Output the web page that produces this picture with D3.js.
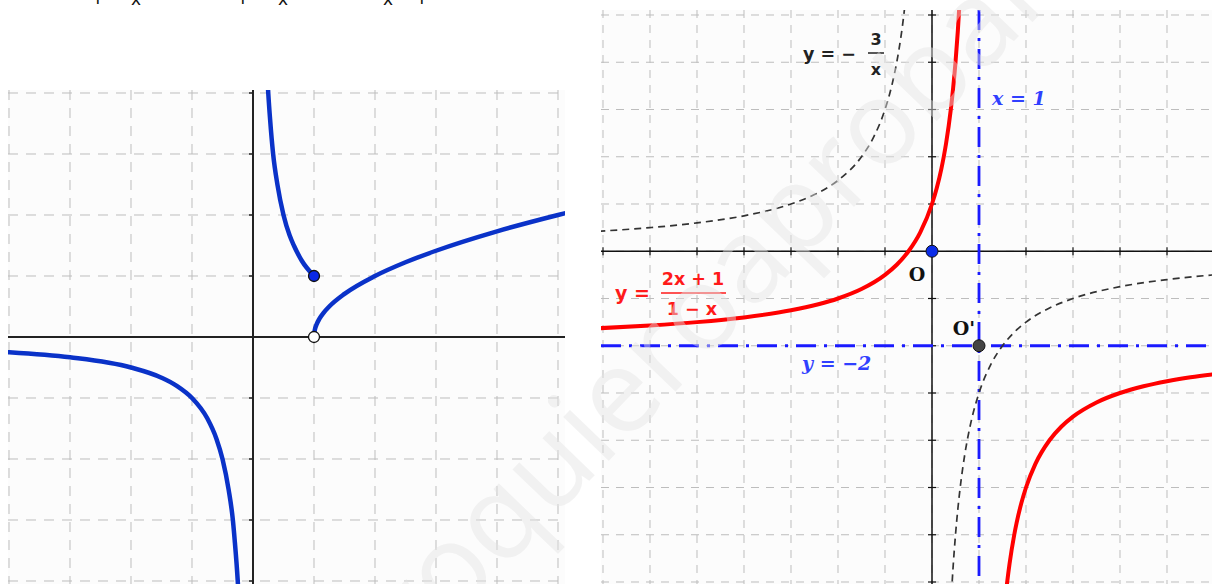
<!DOCTYPE html>
<html>
<head>
<meta charset="utf-8">
<script src="https://cdn.jsdelivr.net/npm/d3@7"></script>
<style>
  body { margin: 0; background: #fff; }
  svg { display: block; }
</style>
</head>
<body>
<div id="chart"></div>
<script>
// left panel: piecewise function
var leftNeg = [[-4.1,-0.244],[-4,-0.25],[-3,-0.333],[-2,-0.5],[-1.5,-0.667],[-1.25,-0.8],[-1,-1],[-0.75,-1.333],
               [-0.6,-1.667],[-0.5,-2],[-0.4,-2.5],[-0.33,-3],[-0.3,-3.333],[-0.25,-4],[-0.22,-4.55]];
var leftMid = [[0.22,4.55],[0.25,4],[0.28,3.571],[0.33,3],[0.4,2.5],[0.5,2],[0.6,1.667],[0.67,1.5],[0.8,1.25],[1,1]];
var leftRoot = [[1,0],[1.01,0.1],[1.04,0.2],[1.09,0.3],[1.16,0.4],[1.25,0.5],[1.5,0.707],[2,1],
                [2.5,1.225],[3,1.414],[4,1.732],[5,2],[5.2,2.05]];
var leftDots = [{x:1, y:1, open:false}, {x:1, y:0, open:true}];

// right panel: y=(2x+1)/(1-x) and y=-3/x
var redLeft = [[-7.1,-1.63],[-6,-1.571],[-5,-1.5],[-4,-1.4],[-3,-1.25],[-2,-1],[-1.5,-0.8],[-1,-0.5],
               [-0.75,-0.286],[-0.5,0],[-0.25,0.4],[0,1],[0.1,1.333],[0.2,1.75],[0.25,2],[0.3,2.286],
               [0.4,3],[0.45,3.455],[0.5,4],[0.55,4.667],[0.6,5.5],[0.65,6.57]];
var redRight = [[1.4,-9.5],[1.5,-8],[1.55,-7.455],[1.6,-7],[1.65,-6.615],[1.75,-6],[1.8,-5.75],[1.9,-5.333],
                [2,-5],[2.2,-4.5],[2.5,-4],[2.75,-3.714],[3,-3.5],[3.5,-3.2],[4,-3],[4.5,-2.857],
                [5,-2.75],[5.5,-2.667],[6.1,-2.59]];
var hypLeft = [[-7.1,0.423],[-6,0.5],[-5,0.6],[-4,0.75],[-3,1],[-2.5,1.2],[-2,1.5],[-1.5,2],[-1.25,2.4],
               [-1,3],[-0.9,3.333],[-0.8,3.75],[-0.75,4],[-0.7,4.286],[-0.6,5],[-0.55,5.455],[-0.5,6]];
var hypRight = [[0.4,-7.5],[0.45,-6.667],[0.5,-6],[0.55,-5.455],[0.6,-5],[0.7,-4.286],[0.75,-4],[0.85,-3.529],
                [1,-3],[1.25,-2.4],[1.5,-2],[1.75,-1.714],[2,-1.5],[2.5,-1.2],[3,-1],[4,-0.75],[5,-0.6],[6.1,-0.49]];
var asymX = 1, asymY = -2;
var rightDots = [{x:0, y:0, fill:"#0a2ce8"}, {x:1, y:-2, fill:"#444"}];

var width = 1212, height = 584;

var svg = d3.select("#chart").append("svg")
  .attr("width", width)
  .attr("height", height);

var line = function(x, y) {
  return d3.line().x(function(d){ return x(d[0]); }).y(function(d){ return y(d[1]); })
    .curve(d3.curveMonotoneX);
};

// ---------- left panel ----------
var lx = d3.scaleLinear().domain([-4, 5]).range([9, 558]);
var ly = d3.scaleLinear().domain([-4, 4]).range([581, 93]);
var L = {x0: 8, y0: 90, x1: 565, y1: 584};

var defs = svg.append("defs");
defs.append("clipPath").attr("id", "clipL").append("rect")
  .attr("x", L.x0).attr("y", L.y0).attr("width", L.x1 - L.x0).attr("height", L.y1 - L.y0);

var gl = svg.append("g").attr("clip-path", "url(#clipL)");
gl.append("rect").attr("x", L.x0).attr("y", L.y0).attr("width", L.x1 - L.x0).attr("height", L.y1 - L.y0)
  .attr("fill", "#fcfcfc");

gl.selectAll(".vgrid").data(d3.range(-4, 6)).enter().append("line")
  .attr("x1", function(d){ return lx(d); }).attr("x2", function(d){ return lx(d); })
  .attr("y1", L.y0).attr("y2", L.y1)
  .attr("stroke", "#bdbdbd").attr("stroke-width", 1).attr("stroke-dasharray", "10,8");
gl.selectAll(".hgrid").data(d3.range(-4, 5)).enter().append("line")
  .attr("y1", function(d){ return ly(d); }).attr("y2", function(d){ return ly(d); })
  .attr("x1", L.x0).attr("x2", L.x1)
  .attr("stroke", "#bdbdbd").attr("stroke-width", 1).attr("stroke-dasharray", "10,8");

gl.append("line").attr("x1", L.x0).attr("x2", L.x1).attr("y1", ly(0)).attr("y2", ly(0))
  .attr("stroke", "#222").attr("stroke-width", 2);
gl.append("line").attr("x1", lx(0)).attr("x2", lx(0)).attr("y1", L.y0).attr("y2", L.y1)
  .attr("stroke", "#222").attr("stroke-width", 2);
gl.selectAll(".ytick").data([-4,-3,-2,-1,1,2,3,4]).enter().append("line")
  .attr("x1", lx(0) - 4).attr("x2", lx(0))
  .attr("y1", function(d){ return ly(d); }).attr("y2", function(d){ return ly(d); })
  .attr("stroke", "#222").attr("stroke-width", 1.5);

[leftNeg, leftMid, leftRoot].forEach(function(pts){
  gl.append("path").attr("d", line(lx, ly)(pts))
    .attr("fill", "none").attr("stroke", "#0a32c8").attr("stroke-width", 4.5);
});
gl.selectAll(".dot").data(leftDots).enter().append("circle")
  .attr("cx", function(d){ return lx(d.x); }).attr("cy", function(d){ return ly(d.y); })
  .attr("r", 5.5)
  .attr("fill", function(d){ return d.open ? "#fff" : "#0a28e6"; })
  .attr("stroke", "#111").attr("stroke-width", 1.3);

// ---------- right panel ----------
var rx = d3.scaleLinear().domain([-7, 6]).range([603, 1214]);
var ry = d3.scaleLinear().domain([-7, 5]).range([582, 15]);
var R = {x0: 601, y0: 10, x1: 1212, y1: 584};

defs.append("clipPath").attr("id", "clipR").append("rect")
  .attr("x", R.x0).attr("y", R.y0).attr("width", R.x1 - R.x0).attr("height", R.y1 - R.y0);

var gr = svg.append("g").attr("clip-path", "url(#clipR)");
gr.append("rect").attr("x", R.x0).attr("y", R.y0).attr("width", R.x1 - R.x0).attr("height", R.y1 - R.y0)
  .attr("fill", "#fcfcfc");

gr.selectAll(".vgrid").data(d3.range(-7, 7)).enter().append("line")
  .attr("x1", function(d){ return rx(d); }).attr("x2", function(d){ return rx(d); })
  .attr("y1", R.y0).attr("y2", R.y1)
  .attr("stroke", "#bdbdbd").attr("stroke-width", 1).attr("stroke-dasharray", "8,7");
gr.selectAll(".hgrid").data(d3.range(-7, 6)).enter().append("line")
  .attr("y1", function(d){ return ry(d); }).attr("y2", function(d){ return ry(d); })
  .attr("x1", R.x0).attr("x2", R.x1)
  .attr("stroke", "#bdbdbd").attr("stroke-width", 1).attr("stroke-dasharray", "8,7");

gr.append("line").attr("x1", R.x0).attr("x2", R.x1).attr("y1", ry(0)).attr("y2", ry(0))
  .attr("stroke", "#111").attr("stroke-width", 1.5);
gr.append("line").attr("x1", rx(0)).attr("x2", rx(0)).attr("y1", R.y0).attr("y2", R.y1)
  .attr("stroke", "#111").attr("stroke-width", 1.5);
gr.selectAll(".xtick").data([-7,-6,-5,-4,-3,-2,-1,1,2,3,4,5]).enter().append("line")
  .attr("x1", function(d){ return rx(d); }).attr("x2", function(d){ return rx(d); })
  .attr("y1", ry(0) - 4).attr("y2", ry(0) + 4)
  .attr("stroke", "#111").attr("stroke-width", 1.2);
gr.selectAll(".ytick").data([-7,-6,-5,-4,-3,-2,-1,1,2,3,4,5]).enter().append("line")
  .attr("y1", function(d){ return ry(d); }).attr("y2", function(d){ return ry(d); })
  .attr("x1", rx(0) - 4).attr("x2", rx(0) + 4)
  .attr("stroke", "#111").attr("stroke-width", 1.2);

// asymptotes
gr.append("line").attr("x1", rx(asymX)).attr("x2", rx(asymX)).attr("y1", R.y0).attr("y2", R.y1)
  .attr("stroke", "#1a1aff").attr("stroke-width", 2.8).attr("stroke-dasharray", "20,8,3,8");
gr.append("line").attr("x1", R.x0).attr("x2", R.x1).attr("y1", ry(asymY)).attr("y2", ry(asymY))
  .attr("stroke", "#1a1aff").attr("stroke-width", 2.8).attr("stroke-dasharray", "20,8,3,8");

[hypLeft, hypRight].forEach(function(pts){
  gr.append("path").attr("d", line(rx, ry)(pts))
    .attr("fill", "none").attr("stroke", "#333").attr("stroke-width", 1.7).attr("stroke-dasharray", "7,5");
});
[redLeft, redRight].forEach(function(pts){
  gr.append("path").attr("d", line(rx, ry)(pts))
    .attr("fill", "none").attr("stroke", "#ff0000").attr("stroke-width", 4);
});

gr.selectAll(".dot").data(rightDots).enter().append("circle")
  .attr("cx", function(d){ return rx(d.x); }).attr("cy", function(d){ return ry(d.y); })
  .attr("r", 6).attr("fill", function(d){ return d.fill; })
  .attr("stroke", "#111").attr("stroke-width", 1);

// labels
var bold = "'DejaVu Sans', sans-serif";
gr.append("text").attr("x", 803).attr("y", 60).text("y = −")
  .attr("font-family", bold).attr("font-weight", "bold").attr("font-size", 17.5).attr("fill", "#222");
gr.append("text").attr("x", 876).attr("y", 45).attr("text-anchor", "middle").text("3")
  .attr("font-family", bold).attr("font-weight", "bold").attr("font-size", 16).attr("fill", "#222");
gr.append("line").attr("x1", 868).attr("x2", 884).attr("y1", 53).attr("y2", 53)
  .attr("stroke", "#222").attr("stroke-width", 1.5);
gr.append("text").attr("x", 876).attr("y", 75).attr("text-anchor", "middle").text("x")
  .attr("font-family", bold).attr("font-weight", "bold").attr("font-size", 16).attr("fill", "#222");

gr.append("text").attr("x", 615).attr("y", 300).text("y =")
  .attr("font-family", bold).attr("font-weight", "bold").attr("font-size", 19).attr("fill", "#ff1a1a");
gr.append("text").attr("x", 693).attr("y", 285).attr("text-anchor", "middle").text("2x + 1")
  .attr("font-family", bold).attr("font-weight", "bold").attr("font-size", 17.5).attr("fill", "#ff1a1a");
gr.append("line").attr("x1", 661).attr("x2", 726).attr("y1", 293).attr("y2", 293)
  .attr("stroke", "#ff1a1a").attr("stroke-width", 1.3);
gr.append("text").attr("x", 692).attr("y", 315).attr("text-anchor", "middle").text("1 − x")
  .attr("font-family", bold).attr("font-weight", "bold").attr("font-size", 17.5).attr("fill", "#ff1a1a");

var ital = "'DejaVu Serif', serif";
gr.append("text").attr("x", 992).attr("y", 105).text("x = 1")
  .attr("font-family", ital).attr("font-style", "italic").attr("font-weight", "bold")
  .attr("font-size", 19).attr("fill", "#3040ff");
gr.append("text").attr("x", 802).attr("y", 370).text("y = −2")
  .attr("font-family", ital).attr("font-style", "italic").attr("font-weight", "bold")
  .attr("font-size", 19).attr("fill", "#3040ff");

gr.append("text").attr("x", 917).attr("y", 281).attr("text-anchor", "middle").text("O")
  .attr("font-family", ital).attr("font-weight", "bold").attr("font-size", 19).attr("fill", "#111");
gr.append("text").attr("x", 964).attr("y", 335).attr("text-anchor", "middle").text("O'")
  .attr("font-family", ital).attr("font-weight", "bold").attr("font-size", 19).attr("fill", "#111");

// cut-off text fragments at the top edge
var topBits = [{x:101, t:"p"}, {x:136, t:"x"}, {x:246, t:"p"}, {x:283, t:"x"}, {x:388, t:"x"}, {x:425, t:"p"}];
svg.selectAll(".topbit").data(topBits).enter().append("text")
  .attr("x", function(d){ return d.x; })
  .attr("y", function(d){ return d.t == "p" ? 0 : 5; })
  .attr("text-anchor", "middle")
  .attr("font-family", bold).attr("font-size", 17).attr("fill", "#111")
  .text(function(d){ return d.t; });

// faint watermark
svg.append("text")
  .attr("transform", "translate(735,330) rotate(-46)")
  .attr("text-anchor", "middle")
  .attr("font-family", "'Open Sans', sans-serif").attr("font-size", 118)
  .attr("fill", "#e4e4e4").attr("opacity", 0.45)
  .text("yoquieroaprobar");
</script>
</body>
</html>
